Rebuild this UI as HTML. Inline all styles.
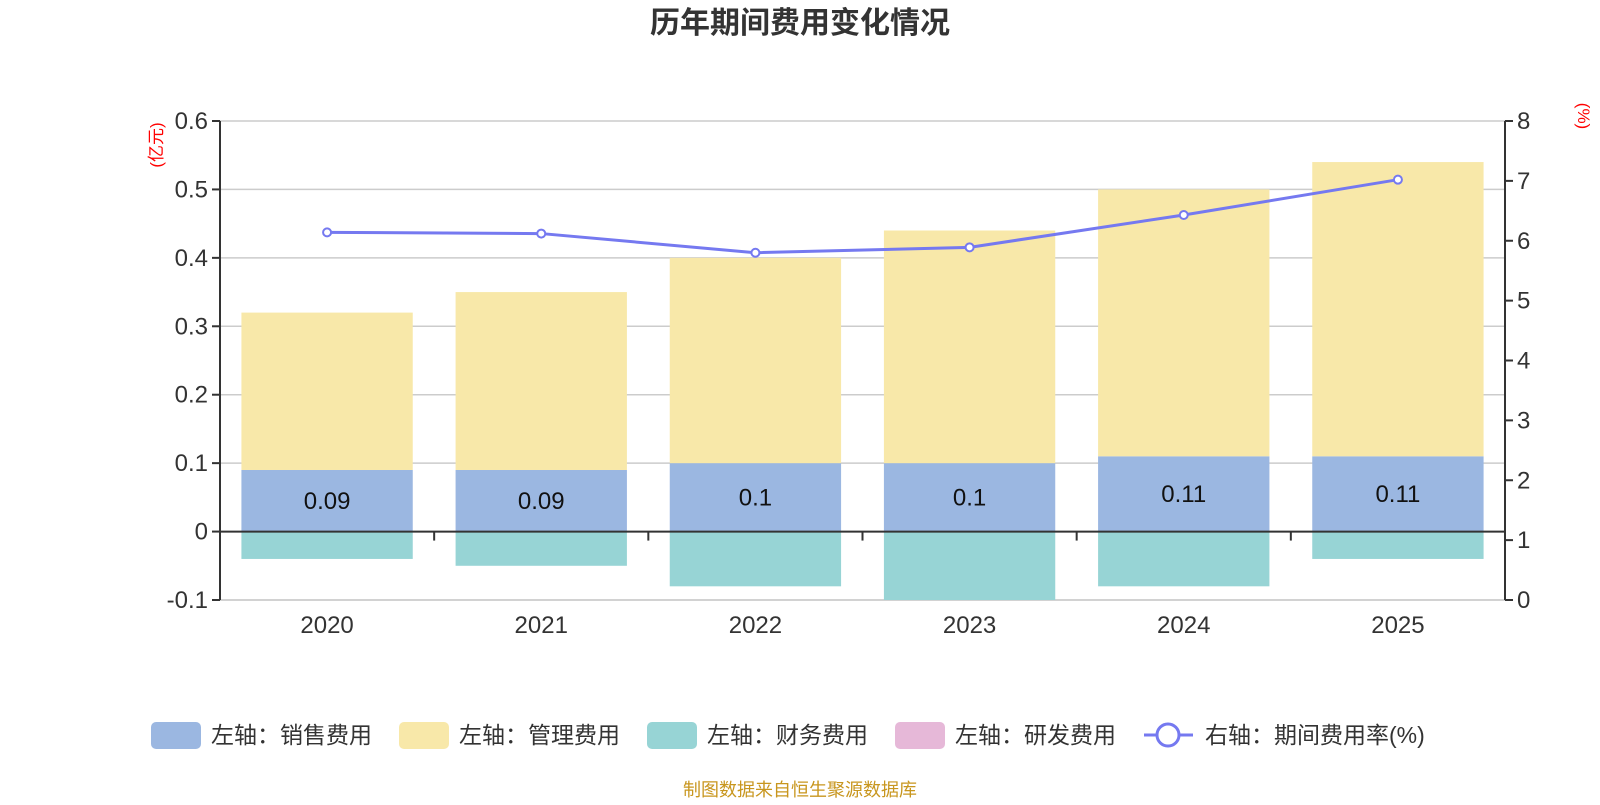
<!DOCTYPE html>
<html><head><meta charset="utf-8"><style>
body{margin:0;background:#fff;}
svg text{font-family:"Liberation Sans","Noto Sans CJK SC",sans-serif;}
</style></head><body>
<svg id="chart" width="1600" height="800" xmlns="http://www.w3.org/2000/svg">
<text x="800" y="33" text-anchor="middle" font-size="30" font-weight="bold" fill="#333">历年期间费用变化情况</text>
<g id="grid"></g><g id="bars"></g><g id="axes"></g><g id="line"></g>
<text transform="translate(162,145) rotate(-90)" text-anchor="middle" font-size="17" fill="red">(亿元)</text>
<text transform="translate(1578,116) rotate(90)" text-anchor="middle" font-size="17" fill="red">(%)</text>
<g font-size="23" fill="#333">
<rect x="151" y="722" width="50" height="27" rx="5" fill="#9bb7e1"/>
<text x="211" y="743">左轴：销售费用</text>
<rect x="399" y="722" width="50" height="27" rx="5" fill="#f8e8a9"/>
<text x="459" y="743">左轴：管理费用</text>
<rect x="647" y="722" width="50" height="27" rx="5" fill="#97d4d5"/>
<text x="707" y="743">左轴：财务费用</text>
<rect x="895" y="722" width="50" height="27" rx="5" fill="#e6b8d8"/>
<text x="955" y="743">左轴：研发费用</text>
<line x1="1144" y1="735" x2="1193" y2="735" stroke="#7579f0" stroke-width="3"/>
<circle cx="1168" cy="735" r="11" fill="#fff" stroke="#7579f0" stroke-width="3"/>
<text x="1205" y="743">右轴：期间费用率(%)</text>
</g>
<text x="800" y="796" text-anchor="middle" font-size="18" fill="#c8961e">制图数据来自恒生聚源数据库</text>
</svg>
<script>
const categories=["2020","2021","2022","2023","2024","2025"];
const sales=[0.09,0.09,0.1,0.1,0.11,0.11];
const admin=[0.23,0.26,0.30,0.34,0.39,0.43];
const finance=[-0.04,-0.05,-0.08,-0.10,-0.08,-0.04];
const rate=[6.14,6.12,5.80,5.89,6.43,7.02];
const leftTicks=[-0.1,0,0.1,0.2,0.3,0.4,0.5,0.6];
const leftTickLabels=["-0.1","0","0.1","0.2","0.3","0.4","0.5","0.6"];
const rightTicks=[0,1,2,3,4,5,6,7,8];

const NS="http://www.w3.org/2000/svg";
const X0=220,X1=1505,YT=121,YB=600;
const band=(X1-X0)/categories.length;
const yL=v=>YB-(v+0.1)/0.7*(YB-YT);
const yR=v=>YB-v/8*(YB-YT);
const xC=i=>X0+band*(i+0.5);
function mk(tag,attrs,parent,text){const e=document.createElementNS(NS,tag);for(const k in attrs)e.setAttribute(k,attrs[k]);if(text!==undefined)e.textContent=text;document.getElementById(parent).appendChild(e);return e;}
leftTicks.forEach((t,i)=>{
 if(t!==0){const g=mk('line',{x1:X0,x2:X1,y1:yL(t),y2:yL(t),stroke:'#ccc','stroke-width':1.5},'grid');
 
 }
 const tk=mk('line',{x1:X0-8,x2:X0,y1:yL(t),y2:yL(t),stroke:'#333','stroke-width':2},'axes');
 
 
 const l=mk('text',{x:X0-12,y:yL(t)+8,'text-anchor':'end','font-size':24,fill:'#333'},'axes',leftTickLabels[i]);
 
 
});
rightTicks.forEach(t=>{
 const tk=mk('line',{x1:X1,x2:X1+8,y1:yR(t),y2:yR(t),stroke:'#333','stroke-width':2},'axes');
 
 
 const l=mk('text',{x:X1+12,y:yR(t)+8,'font-size':24,fill:'#333'},'axes',String(t));
 
 
});
const bw=band*0.8;
categories.forEach((c,i)=>{
 const x=xC(i)-bw/2;
 const s=mk('rect',{x:x,y:yL(sales[i]),width:bw,height:yL(0)-yL(sales[i]),fill:'#9bb7e1'},'bars');
 
 
 const a=mk('rect',{x:x,y:yL(sales[i]+admin[i]),width:bw,height:yL(sales[i])-yL(sales[i]+admin[i]),fill:'#f8e8a9'},'bars');
 
 
 const f=mk('rect',{x:x,y:yL(0),width:bw,height:yL(finance[i])-yL(0),fill:'#97d4d5'},'bars');
 
 
 const lb=mk('text',{x:xC(i),y:(yL(sales[i])+yL(0))/2+8,'text-anchor':'middle','font-size':24,fill:'#111'},'bars',String(sales[i]));
 
 
 const cl=mk('text',{x:xC(i),y:633,'text-anchor':'middle','font-size':24,fill:'#333'},'axes',c);
 
 
 const ct=mk('line',{x1:X0+band*(i+1),x2:X0+band*(i+1),y1:yL(0),y2:yL(0)+9,stroke:'#333','stroke-width':2},'axes');
 
 
});
const za=mk('line',{x1:X0,x2:X1,y1:yL(0),y2:yL(0),stroke:'#333','stroke-width':2},'axes');


const bl=mk('line',{x1:X0,x2:X1,y1:YB,y2:YB,stroke:'#ccc','stroke-width':1.5},'grid');


const la=mk('line',{x1:X0,x2:X0,y1:YT,y2:YB,stroke:'#333','stroke-width':2},'axes');


const ra=mk('line',{x1:X1,x2:X1,y1:YT,y2:YB,stroke:'#333','stroke-width':2},'axes');


const pl=mk('polyline',{points:rate.map((v,i)=>xC(i)+','+yR(v)).join(' '),fill:'none',stroke:'#7579f0','stroke-width':3},'line');


rate.forEach((v,i)=>{
 const p=mk('circle',{cx:xC(i),cy:yR(v),r:4,fill:'#fff',stroke:'#7579f0','stroke-width':2},'line');
 
 
});
</script>
</body></html>
